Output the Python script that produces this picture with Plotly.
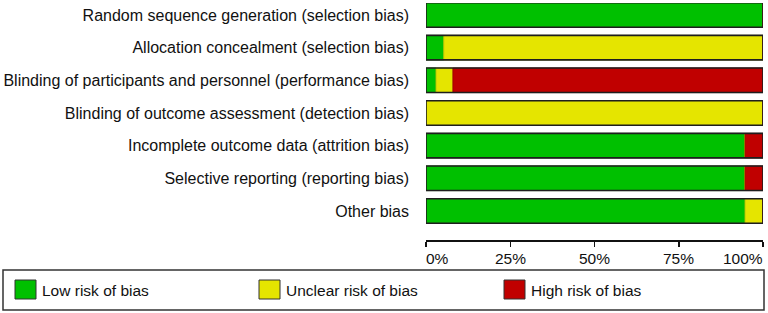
import plotly.graph_objects as go

categories = [
    "Random sequence generation (selection bias)",
    "Allocation concealment (selection bias)",
    "Blinding of participants and personnel (performance bias)",
    "Blinding of outcome assessment (detection bias)",
    "Incomplete outcome data (attrition bias)",
    "Selective reporting (reporting bias)",
    "Other bias",
]
low = [100, 5.3, 3.0, 0, 94.7, 94.7, 94.7]
unclear = [0, 94.7, 5.0, 100, 0, 0, 5.3]
high = [0, 0, 92.0, 0, 5.3, 5.3, 0]

series = [
    ("Low risk of bias", low, "#00c000", "#1aa80a"),
    ("Unclear risk of bias", unclear, "#e5e500", "#cccc00"),
    ("High risk of bias", high, "#c00000", "#a00000"),
]
tick_vals = [0, 25, 50, 75, 100]
tick_text = ["0%", "25%", "50%", "75%", "100%"]

FONT = "Liberation Sans, Arial, sans-serif"
fig = go.Figure()
base = [0.0] * len(categories)
for name, vals, col, edge in series:
    fig.add_trace(go.Bar(
        y=categories, x=vals, base=list(base), orientation="h", name=name,
        width=0.75, marker=dict(color=col, line=dict(color=edge, width=1)),
        showlegend=False,
    ))
    base = [b + v for b, v in zip(base, vals)]

# outer outline of each bar
fig.add_trace(go.Bar(
    y=categories, x=[100] * len(categories), base=[0] * len(categories),
    orientation="h", width=0.75,
    marker=dict(color="rgba(0,0,0,0)", line=dict(color="#1e1e1e", width=1.6)),
    showlegend=False, hoverinfo="skip",
))

W, H = 768, 313
L, R, T, B = 426, 5, 3, 73
pw, ph = W - L - R, H - T - B

def px(x):
    return (x - L) / pw

def py(y):
    return (H - B - y) / ph

shapes = [dict(type="rect", xref="paper", yref="paper",
               x0=px(3), x1=px(764), y0=py(270), y1=py(310),
               line=dict(color="#333333", width=1.5), fillcolor="white")]
annotations = []
legend_x = [15, 259, 504]
for (name, vals, col, edge), lx in zip(series, legend_x):
    shapes.append(dict(type="rect", xref="paper", yref="paper",
                       x0=px(lx), x1=px(lx + 21), y0=py(280), y1=py(299),
                       line=dict(color="#333333", width=1), fillcolor=col))
    annotations.append(dict(xref="paper", yref="paper", x=px(lx + 25), y=py(290),
                            text=name, showarrow=False, xanchor="left", yanchor="middle",
                            font=dict(family=FONT, size=15.5, color="#111111")))

# x tick labels (first left-aligned, last right-aligned, as in the reference)
for i, (tv, tt) in enumerate(zip(tick_vals, tick_text)):
    anchor = "left" if i == 0 else ("right" if i == len(tick_vals) - 1 else "center")
    shift = -2 if i == 0 else (2 if i == len(tick_vals) - 1 else 0)
    annotations.append(dict(xref="x", yref="paper", x=tv, y=py(258), text=tt,
                            showarrow=False, xanchor=anchor, yanchor="middle",
                            xshift=shift,
                            font=dict(family=FONT, size=15.5, color="#111111")))

fig.update_layout(
    barmode="overlay",
    width=W, height=H,
    margin=dict(l=L, r=R, t=T, b=B, pad=0, autoexpand=False),
    plot_bgcolor="white", paper_bgcolor="white",
    font=dict(family=FONT, size=16, color="#111111"),
    shapes=shapes, annotations=annotations,
    xaxis=dict(range=[0, 100], tickvals=tick_vals, showticklabels=False,
               showgrid=False, zeroline=False, showline=True, linecolor="#111111",
               linewidth=1.5, ticks="outside", ticklen=5, tickwidth=1.5,
               tickcolor="#111111", fixedrange=True, automargin=False),
    yaxis=dict(categoryorder="array", categoryarray=categories,
               range=[6.888, -0.367], showgrid=False, zeroline=False,
               showline=False, ticks="", ticklabelstandoff=16, fixedrange=True,
               automargin=False),
)
fig.write_html("out.html", config={"displayModeBar": False, "staticPlot": True},
               post_script="document.body.style.margin='0';document.body.style.overflow='hidden';")
